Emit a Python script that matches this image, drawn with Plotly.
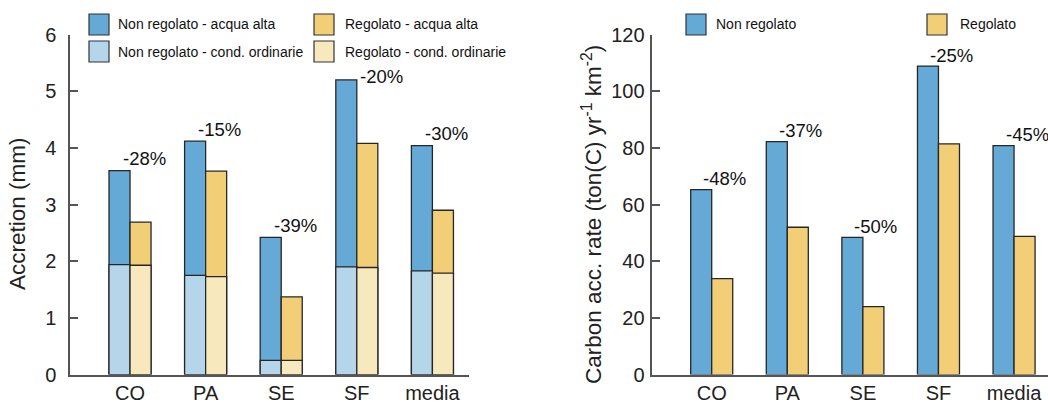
import plotly.graph_objects as go

W, H = 1048, 403

# ---- data -------------------------------------------------------------
sites = ["CO", "PA", "SE", "SF", "media"]

# Accretion (mm): total under high water, and the ordinary-conditions part
acc_nonreg_total = [3.60, 4.12, 2.42, 5.20, 4.04]
acc_nonreg_ord = [1.94, 1.75, 0.25, 1.90, 1.83]
acc_reg_total = [2.69, 3.59, 1.37, 4.08, 2.90]
acc_reg_ord = [1.93, 1.73, 0.25, 1.89, 1.79]
acc_change = ["-28%", "-15%", "-39%", "-20%", "-30%"]

# Carbon accumulation rate (ton(C) yr-1 km-2)
carb_nonreg = [65.3, 82.2, 48.4, 108.9, 80.8]
carb_reg = [33.9, 52.0, 24.0, 81.4, 48.8]
carb_change = ["-48%", "-37%", "-50%", "-25%", "-45%"]

# ---- style ------------------------------------------------------------
BLUE = "#65A9D7"
BLUE_LIGHT = "#B4D5EA"
YELLOW = "#F2CF76"
YELLOW_LIGHT = "#F8E8BE"
EDGE = "#262626"
AXIS = "#555555"
FONT = "Liberation Sans, Arial, sans-serif"

BAR_W = 0.278
pos = list(range(len(sites)))

fig = go.Figure()


def add_bar(vals, color, offset, xa, ya, name):
    fig.add_trace(go.Bar(
        x=pos, y=vals, width=BAR_W, offset=offset, name=name,
        marker=dict(color=color, line=dict(color=EDGE, width=1.3)),
        xaxis=xa, yaxis=ya, showlegend=False,
    ))


# left panel: full high-water bar with the ordinary-conditions part on top
add_bar(acc_nonreg_total, BLUE, -BAR_W, "x", "y", "Non regolato - acqua alta")
add_bar(acc_reg_total, YELLOW, 0, "x", "y", "Regolato - acqua alta")
add_bar(acc_nonreg_ord, BLUE_LIGHT, -BAR_W, "x", "y", "Non regolato - cond. ordinarie")
add_bar(acc_reg_ord, YELLOW_LIGHT, 0, "x", "y", "Regolato - cond. ordinarie")

# right panel
add_bar(carb_nonreg, BLUE, -BAR_W, "x2", "y2", "Non regolato")
add_bar(carb_reg, YELLOW, 0, "x2", "y2", "Regolato")

annotations = []

# percentage change above each pair
LABEL_FONT = dict(family=FONT, size=18.5, color="#111111")
left_shift = {"SF": (25, 3)}
for i, (v, t) in enumerate(zip(acc_nonreg_total, acc_change)):
    dx, dy = left_shift.get(sites[i], (14, 12))
    annotations.append(dict(x=pos[i], y=v, xref="x", yref="y", text=t,
                            showarrow=False, xshift=dx, yshift=dy,
                            font=LABEL_FONT, xanchor="center", yanchor="middle"))
for i, (v, t) in enumerate(zip(carb_nonreg, carb_change)):
    annotations.append(dict(x=pos[i], y=v, xref="x2", yref="y2", text=t,
                            showarrow=False, xshift=13, yshift=11,
                            font=LABEL_FONT, xanchor="center", yanchor="middle"))

# ---- legends drawn as boxes + text (pixel positions) ------------------
shapes = []


def px_x(p):
    return p / W


def px_y(p):
    return 1 - p / H


def legend_item(x0, y0, color, text, gap):
    shapes.append(dict(type="rect", xref="paper", yref="paper",
                       x0=px_x(x0), x1=px_x(x0 + 20), y0=px_y(y0), y1=px_y(y0 + 21),
                       fillcolor=color, line=dict(color="#333333", width=1.2)))
    annotations.append(dict(x=px_x(x0 + 20 + gap), y=px_y(y0 + 10.5), xref="paper",
                            yref="paper", text=text, showarrow=False,
                            xanchor="left", yanchor="middle",
                            font=dict(family=FONT, size=14, color="#111111")))


legend_item(89, 14, BLUE, "Non regolato - acqua alta", 7)
legend_item(89, 41, BLUE_LIGHT, "Non regolato - cond. ordinarie", 7)
legend_item(314, 14, YELLOW, "Regolato - acqua alta", 9)
legend_item(314, 41, YELLOW_LIGHT, "Regolato - cond. ordinarie", 9)
legend_item(686, 14, BLUE, "Non regolato", 8)
legend_item(927, 14, YELLOW, "Regolato", 11)

# ---- y-axis titles (rotated text) ---------------------------------------
TITLE_FONT = dict(family=FONT, size=22.5, color="#222222")
annotations.append(dict(x=px_x(17), y=px_y(214), xref="paper", yref="paper",
                        text="Accretion (mm)", textangle=-90, showarrow=False,
                        xanchor="center", yanchor="middle", font=TITLE_FONT))
annotations.append(dict(x=px_x(592), y=px_y(215), xref="paper", yref="paper",
                        text="Carbon acc. rate (ton(C) yr<sup>-1</sup> km<sup>-2</sup>)",
                        textangle=-90, showarrow=False,
                        xanchor="center", yanchor="middle", font=TITLE_FONT))

# ---- axes -------------------------------------------------------------
TICK_FONT = dict(family=FONT, size=20, color="#222222")
common_x = dict(tickvals=pos, ticktext=sites, showline=True, linecolor=AXIS,
                linewidth=1.5, ticks="", showgrid=False, zeroline=False,
                tickfont=TICK_FONT, automargin=False, fixedrange=True)
common_y = dict(showline=True, linecolor=AXIS, linewidth=1.5, ticks="inside",
                ticklen=8, tickcolor=AXIS, tickwidth=1.5, showgrid=False,
                zeroline=False, tickfont=TICK_FONT, automargin=False)

y_dom = [1 - 374.6 / H, 1 - 34.6 / H]

fig.update_layout(
    width=W, height=H,
    margin=dict(l=0, r=0, t=0, b=0),
    paper_bgcolor="white", plot_bgcolor="white",
    barmode="overlay",
    showlegend=False,
    xaxis=dict(domain=[70 / W, 469 / W], range=[-0.794, 4.484], anchor="y", **common_x),
    yaxis=dict(domain=y_dom, range=[0, 6], tickvals=[0, 1, 2, 3, 4, 5, 6],
               anchor="x", ticklabelstandoff=8, **common_y),
    xaxis2=dict(domain=[652.3 / W, 1.0], range=[-0.786, 4.449], anchor="y2", **common_x),
    yaxis2=dict(domain=y_dom, range=[0, 120], tickvals=[0, 20, 40, 60, 80, 100, 120],
                anchor="x2", ticklabelstandoff=2, **common_y),
    annotations=annotations,
    shapes=shapes,
)

fig.write_html("out.html")
